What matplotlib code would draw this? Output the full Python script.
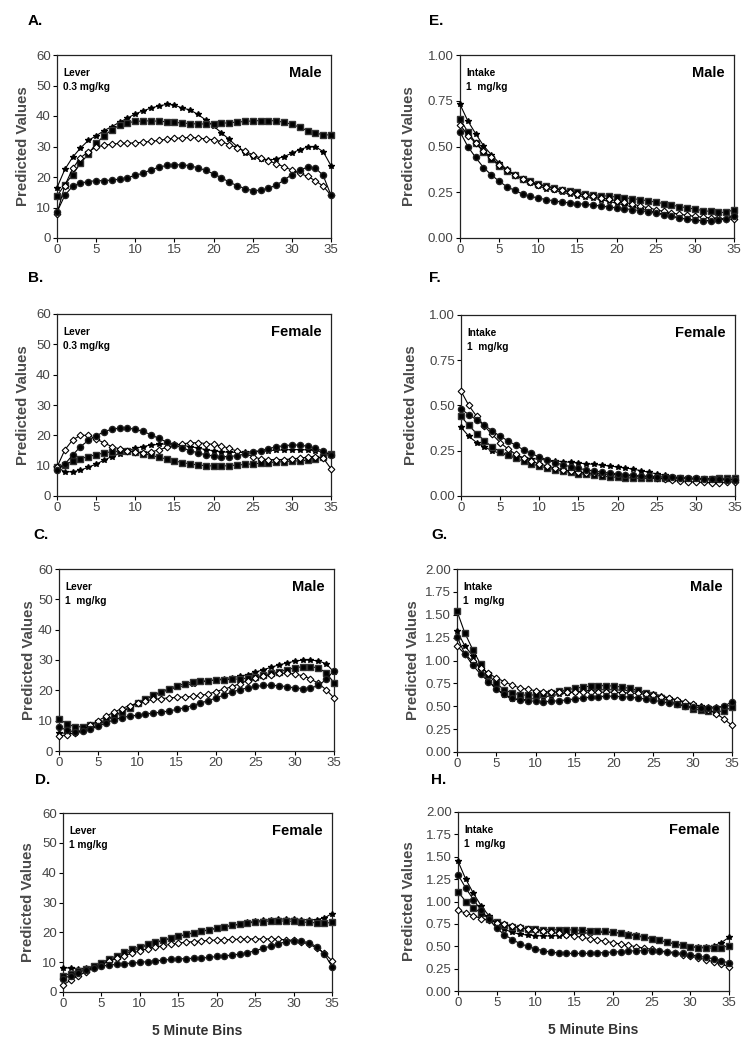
import numpy as np
import matplotlib.pyplot as plt

plt.rcParams['font.family'] = ['Liberation Sans', 'DejaVu Sans']

bins = list(range(36))

# Panel A - Lever 0.3 mg/kg, Male
a_circle = [8.5, 14, 17, 18, 18.5, 18.8, 18.8, 19, 19.3, 19.8, 20.5, 21.3, 22.3, 23.2, 23.8, 24, 24, 23.7,
            23, 22.2, 21, 19.8, 18.3, 17.2, 16.2, 15.5, 15.7, 16.3, 17.3, 19, 20.8, 22.3, 23.2, 23, 20.5, 14]
a_square = [13.8, 17.5, 20.8, 24.5, 27.5, 31, 33.5, 35.5, 37, 37.8, 38.2, 38.4, 38.4, 38.3, 38.1, 37.9, 37.7, 37.5,
            37.4, 37.4, 37.5, 37.6, 37.8, 38, 38.2, 38.4, 38.5, 38.5, 38.4, 37.9, 37.3, 36.3, 35.2, 34.5, 33.8, 33.8]
a_diamond = [8, 17.2, 22.8, 26.3, 28.3, 29.8, 30.4, 30.8, 31, 31.1, 31.2, 31.4, 31.7, 32, 32.4, 32.7, 32.8, 33,
             32.8, 32.5, 32.2, 31.6, 30.6, 29.6, 28.5, 27.3, 26.2, 25.3, 24.4, 23.3, 22.3, 21.2, 20.2, 18.8, 17, 14]
a_star = [16.5, 22.5, 26.5, 29.5, 32, 33.5, 35.2, 36.5, 38, 39.3, 40.7, 41.7, 42.6, 43.3, 43.8, 43.6, 42.6, 42,
          40.5, 38.7, 36.7, 34.5, 32.3, 30, 28, 26.7, 25.8, 25.5, 25.9, 26.7, 27.8, 29, 29.8, 30, 28.3, 23.7]

# Panel B - Lever 0.3 mg/kg, Female
b_circle = [8.5, 10.5, 13.5, 16.3, 18.3, 19.8, 21.2, 22, 22.4, 22.4, 22, 21.3, 20.2, 19, 17.8, 16.8, 15.8, 15,
            14.2, 13.6, 13.2, 13, 13, 13.3, 13.8, 14.4, 15, 15.6, 16.2, 16.6, 16.8, 16.8, 16.4, 15.7, 14.8, 13.5]
b_square = [9.5, 10.3, 11.5, 12.3, 13, 13.6, 14.2, 14.6, 14.8, 14.8, 14.5, 14, 13.4, 12.8, 12.2, 11.6, 11, 10.6,
            10.2, 10, 9.9, 9.9, 10, 10.2, 10.4, 10.6, 10.8, 11, 11.2, 11.3, 11.5, 11.6, 11.8, 12.2, 13, 14]
b_diamond = [9.5, 15.2, 18.5, 20, 20, 18.8, 17.5, 16.3, 15.5, 15, 14.5, 14.3, 14.5, 15.2, 16, 16.8, 17.2, 17.5,
             17.6, 17.3, 17, 16.5, 15.7, 14.8, 14, 13, 12.2, 12, 12, 12, 12.2, 12.5, 12.8, 13, 12.5, 9]
b_star = [9.5, 8, 8, 8.5, 9.5, 10.5, 11.8, 13, 14, 15, 15.7, 16.3, 16.8, 17, 17.2, 17, 16.7, 16.3,
          15.8, 15.3, 14.9, 14.6, 14.4, 14.4, 14.5, 14.6, 14.8, 15, 15.1, 15.2, 15.3, 15.3, 15.2, 15, 14.5, 13.8]

# Panel C - Lever 1 mg/kg, Male
c_circle = [8, 6.8, 6.3, 6.5, 7.2, 8.2, 9.3, 10.3, 11, 11.5, 11.8, 12.2, 12.5, 12.8, 13.2, 13.7, 14.3, 15,
            15.8, 16.6, 17.5, 18.5, 19.4, 20.2, 20.8, 21.3, 21.6, 21.7, 21.5, 21.2, 20.8, 20.6, 20.7, 21.6, 23.6, 26.5]
c_square = [10.5, 9, 8, 8, 8.5, 9.3, 10.3, 11.5, 12.8, 14.3, 15.8, 17.2, 18.4, 19.6, 20.5, 21.5, 22.2, 22.7,
            23, 23.2, 23.4, 23.5, 23.6, 23.8, 24, 24.4, 25, 25.6, 26.2, 26.8, 27.4, 27.8, 27.8, 27.4, 25.8, 22.5]
c_diamond = [5, 5.3, 6, 7, 8.5, 10, 11.5, 12.8, 14, 15, 15.8, 16.5, 17, 17.3, 17.5, 17.7, 17.8, 18,
             18.3, 18.8, 19.6, 20.4, 21.2, 22.2, 23.2, 24, 24.7, 25.2, 25.6, 25.6, 25.4, 24.8, 23.8, 22.3, 20.2, 17.5]
c_star = [6, 5.8, 5.8, 6.5, 7.5, 8.6, 10, 11.5, 13, 14.5, 15.8, 17, 18.2, 19.3, 20.2, 21, 21.6, 22.2,
          22.7, 23.1, 23.5, 23.8, 24.2, 24.6, 25.2, 26, 26.8, 27.6, 28.4, 29, 29.6, 30, 30, 29.7, 28.8, 26]

# Panel D - Lever 1 mg/kg, Female
d_circle = [4.5, 5.5, 6.5, 7.5, 8.2, 8.7, 9, 9.3, 9.5, 9.7, 9.9, 10.2, 10.4, 10.7, 10.9, 11.1, 11.2, 11.3,
            11.4, 11.6, 11.9, 12.1, 12.4, 12.7, 13.2, 13.8, 14.6, 15.4, 16.2, 16.8, 17.2, 17.1, 16.5, 15.2, 12.8, 8.5]
d_square = [5.5, 6.2, 7, 7.8, 8.7, 9.8, 11, 12.2, 13.3, 14.3, 15.2, 16, 16.7, 17.3, 18, 18.7, 19.3, 19.9,
            20.4, 20.9, 21.4, 21.9, 22.3, 22.7, 23.1, 23.4, 23.6, 23.8, 23.8, 23.8, 23.7, 23.5, 23.3, 23.2, 23.1, 23.3]
d_diamond = [2.3, 4, 5.5, 6.8, 8, 9.2, 10.3, 11.3, 12.2, 13, 13.8, 14.5, 15, 15.5, 16, 16.4, 16.7, 16.9,
             17.1, 17.3, 17.4, 17.5, 17.6, 17.7, 17.8, 17.8, 17.8, 17.8, 17.7, 17.5, 17.3, 16.8, 16, 14.8, 13, 10.5]
d_star = [8.2, 8, 7.8, 8, 8.6, 9.5, 10.5, 11.6, 12.8, 13.8, 14.8, 15.7, 16.5, 17.3, 18, 18.6, 19.2, 19.8,
          20.3, 20.8, 21.3, 21.8, 22.3, 22.8, 23.3, 23.7, 24, 24.3, 24.4, 24.5, 24.4, 24.3, 24.2, 24.3, 24.8, 26.3]

# Panel E - Intake 1 mg/kg, Male
e_circle = [0.58, 0.50, 0.44, 0.385, 0.345, 0.31, 0.28, 0.26, 0.24, 0.228, 0.218, 0.21, 0.203, 0.197, 0.192,
            0.188, 0.184, 0.18, 0.175, 0.17, 0.165, 0.16, 0.155, 0.15, 0.143, 0.135, 0.127, 0.118, 0.11, 0.103,
            0.097, 0.095, 0.095, 0.098, 0.105, 0.12]
e_square = [0.65, 0.58, 0.52, 0.47, 0.43, 0.395, 0.365, 0.345, 0.325, 0.31, 0.295, 0.285, 0.275, 0.265, 0.258,
            0.25, 0.243, 0.237, 0.232, 0.228, 0.224, 0.22, 0.215, 0.21, 0.203, 0.196, 0.188, 0.18, 0.172, 0.165,
            0.158, 0.15, 0.145, 0.14, 0.14, 0.155]
e_diamond = [0.62, 0.56, 0.52, 0.475, 0.44, 0.40, 0.37, 0.345, 0.322, 0.305, 0.292, 0.28, 0.27, 0.26, 0.252,
             0.243, 0.235, 0.227, 0.22, 0.212, 0.203, 0.195, 0.185, 0.175, 0.165, 0.155, 0.145, 0.137, 0.13, 0.124,
             0.118, 0.113, 0.11, 0.107, 0.105, 0.103]
e_star = [0.73, 0.64, 0.57, 0.505, 0.455, 0.41, 0.375, 0.345, 0.32, 0.3, 0.285, 0.27, 0.26, 0.25, 0.24,
          0.232, 0.224, 0.217, 0.21, 0.2, 0.19, 0.18, 0.17, 0.16, 0.15, 0.14, 0.13, 0.12, 0.11, 0.103,
          0.098, 0.095, 0.095, 0.098, 0.105, 0.13]

# Panel F - Intake 1 mg/kg, Female
f_circle = [0.48, 0.45, 0.42, 0.39, 0.36, 0.33, 0.305, 0.28, 0.255, 0.235, 0.215, 0.2, 0.185, 0.172, 0.162,
            0.152, 0.145, 0.138, 0.132, 0.127, 0.122, 0.118, 0.114, 0.111, 0.109, 0.107, 0.105, 0.104, 0.102, 0.1,
            0.098, 0.096, 0.094, 0.092, 0.09, 0.088]
f_square = [0.44, 0.39, 0.345, 0.305, 0.27, 0.245, 0.225, 0.208, 0.192, 0.178, 0.165, 0.155, 0.145, 0.137, 0.13,
            0.124, 0.119, 0.114, 0.11, 0.106, 0.103, 0.101, 0.099, 0.098, 0.097, 0.097, 0.097, 0.097, 0.097, 0.096,
            0.096, 0.096, 0.096, 0.097, 0.098, 0.1]
f_diamond = [0.58, 0.50, 0.44, 0.385, 0.34, 0.295, 0.26, 0.23, 0.21, 0.192, 0.178, 0.165, 0.155, 0.145, 0.138,
             0.132, 0.128, 0.125, 0.122, 0.12, 0.118, 0.115, 0.112, 0.108, 0.104, 0.1, 0.095, 0.09, 0.085, 0.08,
             0.077, 0.075, 0.074, 0.074, 0.076, 0.08]
f_star = [0.38, 0.33, 0.295, 0.27, 0.25, 0.235, 0.225, 0.218, 0.212, 0.207, 0.203, 0.198, 0.194, 0.19, 0.186,
          0.182, 0.178, 0.175, 0.17, 0.166, 0.16, 0.155, 0.148, 0.14, 0.131, 0.122, 0.114, 0.106, 0.1, 0.095,
          0.092, 0.09, 0.089, 0.089, 0.09, 0.092]

# Panel G - Intake 1 mg/kg, Male
g_circle = [1.26, 1.07, 0.95, 0.85, 0.77, 0.69, 0.63, 0.59, 0.57, 0.56, 0.555, 0.55, 0.555, 0.56, 0.57,
            0.58, 0.59, 0.6, 0.605, 0.61, 0.61, 0.605, 0.6, 0.59, 0.58, 0.565, 0.55, 0.535, 0.52, 0.505,
            0.495, 0.485, 0.48, 0.48, 0.5, 0.55]
g_square = [1.54, 1.30, 1.12, 0.96, 0.84, 0.75, 0.68, 0.645, 0.625, 0.62, 0.625, 0.635, 0.65, 0.665, 0.68,
            0.695, 0.71, 0.72, 0.725, 0.725, 0.72, 0.71, 0.695, 0.675, 0.65, 0.62, 0.59, 0.56, 0.53, 0.5,
            0.475, 0.455, 0.445, 0.44, 0.45, 0.49]
g_diamond = [1.16, 1.07, 0.99, 0.92, 0.86, 0.81, 0.77, 0.73, 0.7, 0.685, 0.67, 0.66, 0.655, 0.655, 0.655,
             0.655, 0.655, 0.655, 0.655, 0.655, 0.655, 0.65, 0.645, 0.64, 0.63, 0.62, 0.605, 0.59, 0.57, 0.55,
             0.525, 0.495, 0.46, 0.42, 0.36, 0.29]
g_star = [1.32, 1.16, 1.05, 0.9, 0.78, 0.69, 0.62, 0.58, 0.57, 0.575, 0.585, 0.6, 0.615, 0.63, 0.645,
          0.655, 0.665, 0.675, 0.68, 0.68, 0.68, 0.675, 0.67, 0.66, 0.65, 0.635, 0.615, 0.59, 0.565, 0.54,
          0.52, 0.5, 0.49, 0.49, 0.5, 0.51]

# Panel H - Intake 1 mg/kg, Female
h_circle = [1.30, 1.15, 1.02, 0.9, 0.8, 0.7, 0.63, 0.575, 0.53, 0.5, 0.47, 0.45, 0.435, 0.425, 0.42,
            0.42, 0.42, 0.42, 0.425, 0.43, 0.435, 0.44, 0.445, 0.45, 0.45, 0.45, 0.445, 0.44, 0.43, 0.42,
            0.405, 0.39, 0.375, 0.36, 0.34, 0.31]
h_square = [1.11, 1.0, 0.93, 0.87, 0.81, 0.77, 0.74, 0.72, 0.705, 0.695, 0.69, 0.685, 0.685, 0.685, 0.685,
            0.68, 0.68, 0.675, 0.67, 0.665, 0.655, 0.645, 0.63, 0.615, 0.6, 0.585, 0.565, 0.545, 0.525, 0.51,
            0.495, 0.485, 0.48, 0.48, 0.485, 0.505]
h_diamond = [0.9, 0.87, 0.84, 0.81, 0.79, 0.765, 0.745, 0.725, 0.71, 0.695, 0.68, 0.67, 0.655, 0.645, 0.63,
             0.615, 0.6, 0.585, 0.57, 0.555, 0.54, 0.525, 0.51, 0.495, 0.48, 0.465, 0.45, 0.435, 0.42, 0.405,
             0.39, 0.37, 0.35, 0.325, 0.3, 0.27]
h_star = [1.45, 1.25, 1.09, 0.95, 0.84, 0.75, 0.69, 0.655, 0.635, 0.625, 0.62, 0.615, 0.615, 0.62, 0.625,
          0.635, 0.645, 0.65, 0.655, 0.655, 0.655, 0.65, 0.64, 0.625, 0.605, 0.585, 0.565, 0.545, 0.525, 0.51,
          0.495, 0.49, 0.49, 0.505, 0.54, 0.6]

W, H = 753, 1050
fig = plt.figure(figsize=(W / 100, H / 100), dpi=100)


def add_panel(box, letter, letter_xy, ylab_x, measure, dose, sex, series, ymax, yticks, xlabel=False):
    left, top, right, bottom = box
    ax = fig.add_axes([left / W, 1 - bottom / H, (right - left) / W, (bottom - top) / H])
    circ, sq, dia, star = series
    ax.plot(bins, star, color='black', lw=0.8, marker='*', ms=4, mfc='black', mec='black', zorder=3, clip_on=False)
    ax.plot(bins, sq, color='black', lw=0.8, marker='s', ms=4.2, mfc='black', mec='#333', zorder=4, clip_on=False)
    ax.plot(bins, dia, color='black', lw=0.8, marker='D', ms=3.4, mfc='white', mec='black', mew=0.8, zorder=5,
            clip_on=False)
    ax.plot(bins, circ, color='black', lw=0.8, marker='o', ms=4.4, mfc='black', mec='#222', zorder=6, clip_on=False)
    ax.set_xlim(0, 35)
    ax.set_ylim(0, ymax)
    ax.set_xticks(range(0, 36, 5))
    ax.set_yticks(yticks)
    if ymax > 10:
        ax.set_yticklabels([str(int(t)) for t in yticks])
    else:
        ax.set_yticklabels(['%.2f' % t for t in yticks])
    ax.tick_params(direction='out', length=3, width=0.8, labelsize=9.5, labelcolor='#444', pad=1.5)
    for s in ax.spines.values():
        s.set_linewidth(0.9)
        s.set_color('#222')
    ax.text(0.022, 0.93, measure + '\n' + dose, transform=ax.transAxes, fontsize=7.3, fontweight='bold',
            va='top', ha='left', linespacing=1.5)
    ax.text(0.965, 0.9, sex, transform=ax.transAxes, fontsize=10.5, fontweight='bold', va='center', ha='right')
    fig.text(letter_xy[0] / W, 1 - letter_xy[1] / H, letter, fontsize=11, fontweight='bold', va='center', ha='left')
    fig.text(ylab_x / W, 1 - ((top + bottom) / 2) / H, 'Predicted Values', rotation=90, fontsize=10.8,
             fontweight='bold', color='#4a4a4a', va='center', ha='center')
    if xlabel:
        ax.set_xlabel('5 Minute Bins', fontsize=10, fontweight='bold', color='#333', labelpad=10)
    return ax


lever_ticks = [0, 10, 20, 30, 40, 50, 60]
add_panel((57, 55, 331, 238), 'A.', (28, 21), 23, 'Lever', '0.3 mg/kg', 'Male',
          (a_circle, a_square, a_diamond, a_star), 60, lever_ticks)
add_panel((57, 314, 331, 496), 'B.', (28, 278), 23, 'Lever', '0.3 mg/kg', 'Female',
          (b_circle, b_square, b_diamond, b_star), 60, lever_ticks)
add_panel((59, 569, 334, 751), 'C.', (33, 535), 29, 'Lever', '1  mg/kg', 'Male',
          (c_circle, c_square, c_diamond, c_star), 60, lever_ticks)
add_panel((63, 813, 332, 992), 'D.', (35, 780), 28, 'Lever', '1 mg/kg', 'Female',
          (d_circle, d_square, d_diamond, d_star), 60, lever_ticks, xlabel=True)

e_ticks = [0, 0.25, 0.5, 0.75, 1.0]
g_ticks = [0, 0.25, 0.5, 0.75, 1.0, 1.25, 1.5, 1.75, 2.0]
add_panel((460, 55, 734, 238), 'E.', (429, 21), 409, 'Intake', '1  mg/kg', 'Male',
          (e_circle, e_square, e_diamond, e_star), 1.0, e_ticks)
add_panel((461, 315, 735, 496), 'F.', (429, 278), 411, 'Intake', '1  mg/kg', 'Female',
          (f_circle, f_square, f_diamond, f_star), 1.0, e_ticks)
add_panel((457, 569, 732, 752), 'G.', (431, 535), 413, 'Intake', '1  mg/kg', 'Male',
          (g_circle, g_square, g_diamond, g_star), 2.0, g_ticks)
add_panel((458, 812, 729, 991), 'H.', (431, 780), 409, 'Intake', '1  mg/kg', 'Female',
          (h_circle, h_square, h_diamond, h_star), 2.0, g_ticks, xlabel=True)

fig.savefig('out.png', dpi=100)
